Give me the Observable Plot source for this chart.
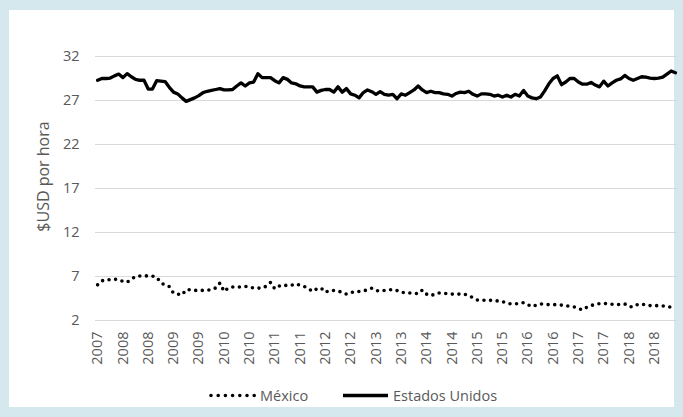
<!DOCTYPE html>
<html><head><meta charset="utf-8">
<script src="https://cdn.jsdelivr.net/npm/d3@7"></script>
<script src="https://cdn.jsdelivr.net/npm/@observablehq/plot@0.6"></script>
<style>
html,body{margin:0;padding:0;}
body{width:683px;height:417px;background:#d5e8ee;position:relative;overflow:hidden;font-family:"Open Sans",sans-serif;}
#panel{position:absolute;left:9px;top:10px;width:665px;height:397px;background:#fff;}
#chart{position:absolute;left:0;top:0;}
#legend{position:absolute;left:0;top:380px;}
</style></head><body>
<div id="panel"></div><div id="chart"></div><div id="legend"></div>
<script>
// Monthly series, July 2007 – December 2018 (USD per hour)
const usValues = [
29.3,29.5,29.5,29.55,29.8,30.0,29.6,30.05,29.7,29.4,29.3,29.3,28.3,28.3,29.25,29.2,29.15,28.5,27.95,27.75,
27.3,26.9,27.1,27.3,27.55,27.9,28.05,28.15,28.25,28.35,28.2,28.2,28.25,28.65,29.0,28.65,29.0,29.1,30.05,29.6,
29.6,29.6,29.25,29.0,29.6,29.4,29.0,28.9,28.65,28.55,28.55,28.55,27.95,28.15,28.25,28.25,27.95,28.55,27.95,28.35,
27.75,27.6,27.3,27.9,28.2,28.0,27.7,28.0,27.7,27.6,27.7,27.2,27.75,27.6,27.9,28.2,28.65,28.2,27.9,28.05,
27.9,27.9,27.75,27.7,27.5,27.8,27.95,27.9,28.05,27.7,27.5,27.75,27.75,27.7,27.5,27.6,27.4,27.6,27.4,27.7,
27.5,28.15,27.5,27.3,27.2,27.4,28.1,28.9,29.5,29.8,28.8,29.1,29.5,29.5,29.1,28.85,28.85,29.05,28.75,28.55,
29.2,28.65,29.0,29.3,29.45,29.85,29.5,29.3,29.5,29.7,29.65,29.55,29.5,29.55,29.65,30.0,30.35,30.15
];
const mxValues = [
6.05,6.5,6.65,6.62,6.7,6.6,6.45,6.35,6.7,7.0,7.05,7.07,7.07,7.05,6.9,6.3,6.0,5.85,5.1,5.0,
4.9,5.5,5.5,5.42,5.42,5.42,5.45,5.5,5.7,6.25,5.3,5.7,5.8,5.8,5.8,5.87,5.8,5.68,5.68,5.68,
5.9,6.32,5.6,5.9,6.05,5.95,6.0,6.17,6.0,5.87,5.6,5.3,5.6,5.68,5.2,5.42,5.4,5.35,5.2,5.0,
5.15,5.3,5.3,5.35,5.5,5.67,5.4,5.33,5.42,5.45,5.53,5.4,5.2,5.15,5.12,5.1,5.05,5.46,5.0,4.82,
5.0,5.12,5.1,5.05,5.0,5.0,5.0,5.0,4.8,4.6,4.33,4.3,4.29,4.29,4.29,4.2,4.14,4.0,3.88,3.9,
3.92,4.03,3.8,3.58,3.75,3.88,3.85,3.8,3.8,3.8,3.75,3.69,3.6,3.54,3.35,3.2,3.5,3.69,3.85,3.92,
3.92,3.92,3.85,3.8,3.85,3.88,3.6,3.54,3.8,3.88,3.75,3.69,3.69,3.69,3.65,3.6,3.5,3.47
];
// category labels shown every 6 months (first category = July 2007)
const tickLabels = ["2007","2008","2008","2009","2009","2010","2010","2011","2011","2012","2012",
  "2013","2013","2014","2014","2015","2015","2016","2016","2017","2017","2018","2018"];
const yTicks = [2,7,12,17,22,27,32];
const seriesNames = ["México","Estados Unidos"];
const yLabel = "$USD por hora";

const us = usValues.map((v,i)=>({i, v}));
const mx = mxValues.map((v,i)=>({i, v}));
const xTicks = tickLabels.map((label,k)=>({pos:k*6, label}));
const textColor = "#595959";
const font = "'Open Sans', sans-serif";

const chart = Plot.plot({
  width: 683, height: 372,
  marginLeft: 95, marginRight: 6, marginTop: 56, marginBottom: 52,
  style: {background:"transparent", color:textColor, fontFamily:font, fontSize:"14.5px"},
  x: {type:"linear", domain:[-0.5, usValues.length-0.5], axis:null},
  y: {domain:[2,32], ticks:yTicks, axis:null},
  marks: [
    Plot.gridY(yTicks, {stroke:"#d9d9d9", strokeOpacity:1, strokeWidth:1}),
    Plot.text(yTicks, {x:-0.5, y:d=>d, text:d=>String(d), textAnchor:"end", dx:-16, fontSize:14.5, fill:textColor}),
    Plot.text(xTicks, {x:"pos", y:2, text:"label", rotate:-90, textAnchor:"end", lineAnchor:"middle", dy:11, fontSize:14.5, fill:textColor}),
    Plot.text([yLabel], {frameAnchor:"left", textAnchor:"middle", dx:-52, dy:-12, rotate:-90, fontSize:16, fill:textColor}),
    Plot.line(mx, {x:"i", y:"v", stroke:"#000", strokeWidth:3.6, strokeDasharray:"0,6.6", strokeLinecap:"round"}),
    Plot.line(us, {x:"i", y:"v", stroke:"#000", strokeWidth:3.3, strokeLinejoin:"round"})
  ]
});
document.getElementById("chart").appendChild(chart);

// legend
const lg = d3.select("#legend").append("svg").attr("width",683).attr("height",30)
  .style("font-family",font).style("font-size","14.5px");
const ly = 15.5;
lg.append("line").attr("x1",211).attr("x2",255).attr("y1",ly).attr("y2",ly)
  .attr("stroke","#000").attr("stroke-width",3.6).attr("stroke-dasharray","0,7.2").attr("stroke-linecap","round");
lg.append("text").attr("x",260).attr("y",ly).attr("dy","0.35em").attr("fill",textColor).text(seriesNames[0]);
lg.append("line").attr("x1",343).attr("x2",388).attr("y1",ly).attr("y2",ly)
  .attr("stroke","#000").attr("stroke-width",3.3);
lg.append("text").attr("x",393).attr("y",ly).attr("dy","0.35em").attr("fill",textColor).text(seriesNames[1]);
</script>
</body></html>
